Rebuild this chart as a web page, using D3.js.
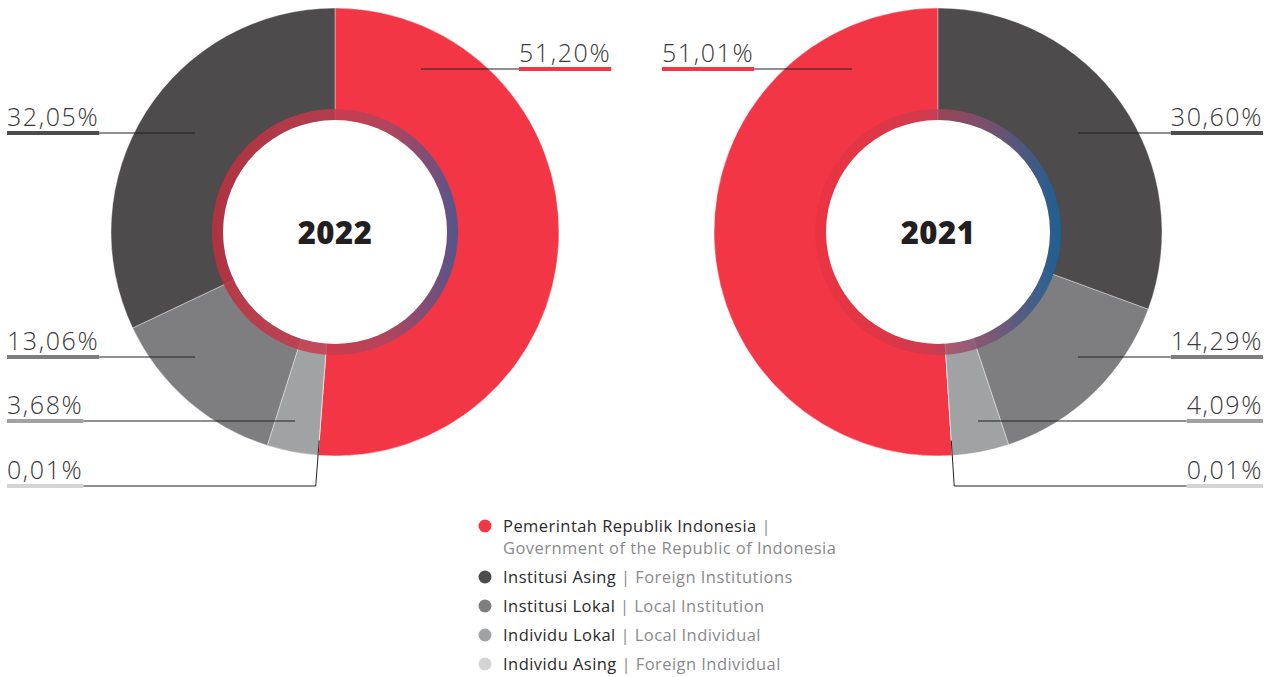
<!DOCTYPE html>
<html>
<head>
<meta charset="utf-8">
<script src="https://cdn.jsdelivr.net/npm/d3@7"></script>
<style>
  body { margin: 0; background: #fff; }
  svg { display: block; }
  text { font-family: "Open Sans", Lato, sans-serif; }
</style>
</head>
<body>
<script>
// shareholder groups, same order for both years
const groups = ["Pemerintah Republik Indonesia", "Individu Asing", "Individu Lokal", "Institusi Lokal", "Institusi Asing"];
const groupsEn = ["Government of the Republic of Indonesia", "Foreign Individual", "Local Individual", "Local Institution", "Foreign Institutions"];
const values2022 = [51.20, 0.01, 3.68, 13.06, 32.05];
const values2021 = [51.01, 0.01, 4.09, 14.29, 30.60];
const labels2022 = ["51,20%", "0,01%", "3,68%", "13,06%", "32,05%"];
const labels2021 = ["51,01%", "0,01%", "4,09%", "14,29%", "30,60%"];
const legendOrder = [0, 4, 3, 2, 1];

const colors = ["#f23645", "#d4d4d4", "#a1a2a4", "#7e7e80", "#4d4b4c"];

const width = 1272,
    height = 677;

const svg = d3.select('body')
    .append('svg')
    .attr('width', width)
    .attr('height', height);

const defs = svg.append('defs');

const R = 224, ringOuter = 123, ringInner = 112;

// label layout: bar y and tip offset from centre (mirrored for 2021)
const labelY = [69, 486, 421, 357, 133];
const tipDx = [86, 0, -40, -140, -140];

function drawDonut(cx, cy, values, labels, year, dir, blue) {
    const g = svg.append('g').attr('transform', 'translate(' + cx + ',' + cy + ')');

    const pie = d3.pie().sort(null).startAngle(0).endAngle(dir * 2 * Math.PI);
    const arcs = pie(values);
    const arc = d3.arc().innerRadius(0).outerRadius(R);

    g.selectAll('path.slice')
        .data(arcs)
        .enter().append('path')
        .attr('class', 'slice')
        .attr('d', arc)
        .attr('fill', (d, i) => colors[i])
        .attr('stroke', '#fff')
        .attr('stroke-width', 0.4);

    // gradient ring (local coords of g)
    const gid = 'ring' + year;
    const grad = defs.append('linearGradient')
        .attr('id', gid)
        .attr('gradientUnits', 'userSpaceOnUse')
        .attr('x1', -ringOuter).attr('x2', ringOuter)
        .attr('y1', 0).attr('y2', 0);
    const stops = dir > 0
        ? [[0, '#bd2f3f', 0.88], [0.45, '#c83a4c', 0.82], [0.7, '#a8475f', 0.85], [1, blue, 0.95]]
        : [[0, '#e2303f', 0.45], [0.45, '#c23d50', 0.7], [0.7, '#7d5272', 0.85], [1, blue, 0.95]];
    stops.forEach(s => grad.append('stop')
        .attr('offset', s[0]).attr('stop-color', s[1]).attr('stop-opacity', s[2]));

    g.append('path')
        .attr('d', d3.arc().innerRadius(ringInner).outerRadius(ringOuter)
            .startAngle(0).endAngle(2 * Math.PI)())
        .attr('fill', 'url(#' + gid + ')');

    g.append('circle')
        .attr('r', ringInner)
        .attr('fill', '#fff');

    g.append('text')
        .attr('text-anchor', 'middle')
        .attr('y', 12)
        .attr('font-size', 31)
        .attr('font-weight', 800)
        .attr('letter-spacing', 0.5)
        .attr('fill', '#231f20')
        .text(year);

    // labels
    arcs.forEach((d, i) => {
        const y = labelY[i];
        let tx;
        if (i === 0) tx = dir > 0 ? 519 - cx : 662 - cx;
        else tx = dir > 0 ? 7 - cx : 1263 - cx;
        const anchor = (i === 0 || dir > 0) ? 'start' : 'end';

        const t = g.append('text')
            .attr('x', tx)
            .attr('y', y - cy - 7)
            .attr('text-anchor', anchor)
            .attr('font-size', 25)
            .attr('font-weight', 300)
            .attr('letter-spacing', 1.6)
            .attr('fill', '#3a3839')
            .text(labels[i]);
        const w = t.node().getComputedTextLength();
        const bx0 = anchor === 'start' ? tx : tx - w;
        const bx1 = bx0 + w;

        // leader line
        let pts;
        if (i === 1) {
            const a = (d.startAngle + d.endAngle) / 2;
            const inner = [209 * Math.sin(a), -209 * Math.cos(a)];
            const r2 = (y - cy) / -Math.cos(a);
            const outer = [r2 * Math.sin(a), y - cy];
            const end = dir > 0 ? bx1 : bx0;
            pts = [inner, outer, [end, y - cy]];
        } else {
            const tip = dir * tipDx[i];
            const end = tip < (bx0 + bx1) / 2 ? bx0 : bx1;
            pts = [[tip, y - cy], [end, y - cy]];
        }
        g.append('path')
            .attr('d', d3.line()(pts))
            .attr('fill', 'none')
            .attr('stroke', '#231f20')
            .attr('stroke-width', 1);

        g.append('rect')
            .attr('x', bx0)
            .attr('y', y - cy - 2)
            .attr('width', w)
            .attr('height', 4)
            .attr('fill', colors[i]);
    });
}

drawDonut(335, 232, values2022, labels2022, '2022', 1, '#4a5790');
drawDonut(938, 232, values2021, labels2021, '2021', -1, '#1a6197');

// legend
const legend = svg.append('g');
const legendY = [526, 577, 606, 635, 664];
legendOrder.forEach((k, j) => {
    const y = legendY[j];
    legend.append('circle')
        .attr('cx', 485).attr('cy', y)
        .attr('r', 6.5)
        .attr('fill', colors[k]);
    const t = legend.append('text')
        .attr('x', 503).attr('y', y + 6)
        .attr('font-size', 16.5)
        .attr('letter-spacing', 0.45)
        .attr('fill', '#2b2a2a');
    t.append('tspan').text(groups[k]);
    if (k === 0) {
        t.append('tspan').attr('fill', '#8a8a8c').text(' |');
        legend.append('text')
            .attr('x', 503).attr('y', y + 28)
            .attr('font-size', 16.5)
            .attr('letter-spacing', 0.45)
            .attr('fill', '#8a8a8c')
            .text(groupsEn[k]);
    } else {
        t.append('tspan').attr('fill', '#8a8a8c').text(' | ' + groupsEn[k]);
    }
});
</script>
</body>
</html>
